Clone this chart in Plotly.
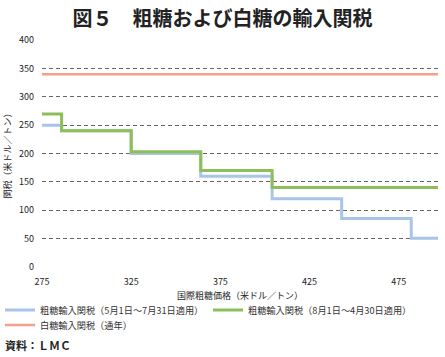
import plotly.graph_objects as go

# Data
price_steps = [275, 286, 325, 364, 404, 443, 482, 497]
raw_may_jul = [250, 240, 200, 160, 120, 85, 50, 50]
raw_aug_apr = [270, 240, 203, 170, 140, 140, 140, 140]
white_x = [275, 497]
white_all = [340, 340]

names = [
    "粗糖輸入関税（5月1日～7月31日適用）",
    "粗糖輸入関税（8月1日～4月30日適用）",
    "白糖輸入関税（通年）",
]
x_ticks = [275, 325, 375, 425, 475]
y_ticks = [0, 50, 100, 150, 200, 250, 300, 350, 400]

FONT = "Noto Sans CJK JP"
BLUE = "#a8c4e8"
GREEN = "#8cbf57"
RED = "#f4a18b"
W, H = 445, 357
L, R, T, B = 42, 7, 40, 90
PW, PH = W - L - R, H - T - B


def px_x(p):
    return (p - L) / PW


def px_y(p):
    return (H - B - p) / PH


fig = go.Figure()
fig.add_trace(go.Scatter(x=price_steps, y=raw_may_jul, mode="lines", line_shape="hv",
                         line=dict(color=BLUE, width=3), name=names[0], legend="legend"))
fig.add_trace(go.Scatter(x=price_steps, y=raw_aug_apr, mode="lines", line_shape="hv",
                         line=dict(color=GREEN, width=3), name=names[1], legend="legend"))
fig.add_trace(go.Scatter(x=white_x, y=white_all, mode="lines",
                         line=dict(color=RED, width=2.5), name=names[2], legend="legend2"))

leg_common = dict(orientation="h", xref="paper", yref="paper", xanchor="left",
                  yanchor="middle", font=dict(size=9.2, color="#333333"),
                  bgcolor="rgba(0,0,0,0)", itemwidth=30)

fig.update_layout(
    width=W, height=H,
    margin=dict(l=L, r=R, t=T, b=B, autoexpand=False),
    paper_bgcolor="white", plot_bgcolor="white",
    font=dict(family=FONT, color="#222222", size=9),
    title=dict(text="図５　粗糖および白糖の輸入関税", x=0.5, xanchor="center",
               y=1 - 18.5 / H, yanchor="middle",
               font=dict(family=FONT, size=20, color="#222222", weight="bold")),
    xaxis=dict(range=[275, 497], tickvals=x_ticks, ticktext=[str(v) for v in x_ticks],
               showgrid=False, zeroline=False, showline=False, ticks="",
               tickfont=dict(size=9), ticklabelstandoff=8,
               title=dict(text="国際粗糖価格（米ドル／トン）", font=dict(size=9), standoff=5)),
    yaxis=dict(range=[-0.6, 400.6], tickvals=y_ticks, ticktext=[str(v) for v in y_ticks],
               showgrid=True, gridcolor="#6b6560", griddash="4px,3px", gridwidth=1,
               zeroline=False, showline=False, ticks="", tickfont=dict(size=9),
               ticklabelstandoff=7,
               title=dict(text="関税（米ドル／トン）", font=dict(size=9), standoff=5)),
    legend=dict(x=px_x(0), y=px_y(310), entrywidth=163, entrywidthmode="pixels", **leg_common),
    legend2=dict(x=px_x(0), y=px_y(325), **leg_common),
    showlegend=True,
)
fig.add_annotation(text="<b>資料：ＬＭＣ</b>", xref="paper", yref="paper",
                   x=px_x(3), y=px_y(345), xanchor="left", yanchor="middle",
                   showarrow=False, font=dict(family=FONT, size=11, color="#222222"))

fig.write_html("out.html", config={"displayModeBar": False},
               post_script="document.body.style.margin='0px';")
